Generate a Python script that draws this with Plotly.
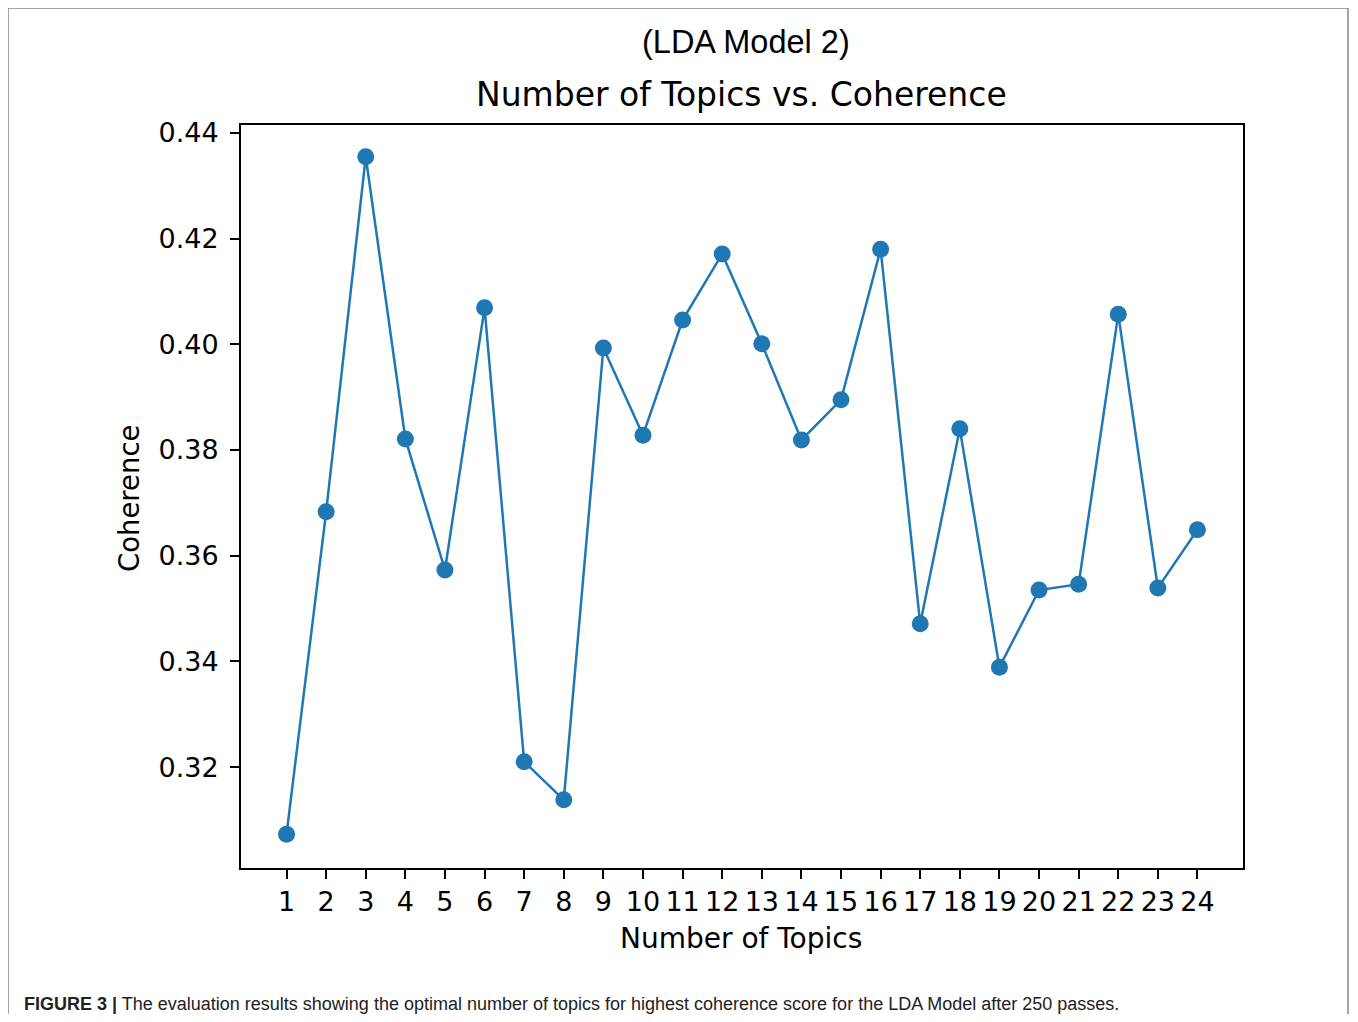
import plotly.graph_objects as go

topics = list(range(1, 25))
coherence = [0.3073, 0.3683, 0.4355, 0.3821, 0.3573, 0.4069, 0.3210, 0.3138,
             0.3993, 0.3828, 0.4046, 0.4171, 0.4001, 0.3819, 0.3895, 0.4180,
             0.3471, 0.3840, 0.3389, 0.3535, 0.3546, 0.4057, 0.3539, 0.3649]
y_ticks = [0.32, 0.34, 0.36, 0.38, 0.40, 0.42, 0.44]

OFF = 8  # page body margin
W, H = 1358 - OFF, 1022 - 2 * OFF
L, R, T, B = 241, 1243, 125, 868  # plot area in page pixels

def px(x):
    return (x - L) / (R - L)

def py(y):
    return (B - y) / (B - T)

fig = go.Figure()
fig.add_trace(go.Scatter(
    x=topics, y=coherence, mode="lines+markers",
    line=dict(color="#1f77b4", width=2.5),
    marker=dict(color="#1f77b4", size=17),
    showlegend=False,
))

font_main = "DejaVu Sans, Arial, sans-serif"
font_arial = "Liberation Sans, Arial, sans-serif"
fig.update_layout(
    width=W, height=H,
    margin=dict(l=L - OFF, r=(W + OFF) - R, t=T - OFF, b=(H + OFF) - B),
    paper_bgcolor="white", plot_bgcolor="white",
    font=dict(family=font_main, color="black", size=27),
    xaxis=dict(range=[-0.15, 25.15], tickmode="array", tickvals=topics,
               ticktext=[str(t) for t in topics],
               showgrid=False, zeroline=False, showline=True, linecolor="black",
               linewidth=2, mirror=True, ticks="outside", ticklen=9, tickwidth=2,
               tickcolor="black", tickfont=dict(size=27, family=font_main)),
    yaxis=dict(range=[0.3009, 0.4415], tickmode="array", tickvals=y_ticks,
               ticktext=[f"{v:.2f}" for v in y_ticks],
               showgrid=False, zeroline=False, showline=True, linecolor="black",
               linewidth=2, mirror=True, ticks="outside", ticklen=9, tickwidth=2,
               tickcolor="black", tickfont=dict(size=27, family=font_main),
               ticklabelstandoff=6),
)

annotations = [
    dict(text="(LDA Model 2)", x=px(746), y=py(42), font=dict(size=32.5, family=font_arial)),
    dict(text="Number of Topics vs. Coherence", x=px(741), y=py(94), font=dict(size=33, family=font_main)),
    dict(text="Number of Topics", x=px(741), y=py(938), font=dict(size=28, family=font_main)),
    dict(text="Coherence", x=px(129), y=py(499), textangle=-90, font=dict(size=27.5, family=font_main)),
]
for a in annotations:
    fig.add_annotation(xref="paper", yref="paper", showarrow=False,
                       xanchor="center", yanchor="middle", **a)

fig.add_annotation(
    xref="paper", yref="paper", showarrow=False, xanchor="left", yanchor="middle",
    x=px(22), y=py(1004),
    text="<b>FIGURE 3 |</b> The evaluation results showing the optimal number of topics for highest coherence score for the LDA Model after 250 passes.",
    font=dict(size=18, family=font_arial, color="#222222"),
)

fig.add_shape(type="rect", xref="paper", yref="paper",
              x0=px(8), x1=px(1348), y0=py(1040), y1=py(8),
              line=dict(color="#888888", width=1.5), layer="below")

fig.write_html("out.html")
